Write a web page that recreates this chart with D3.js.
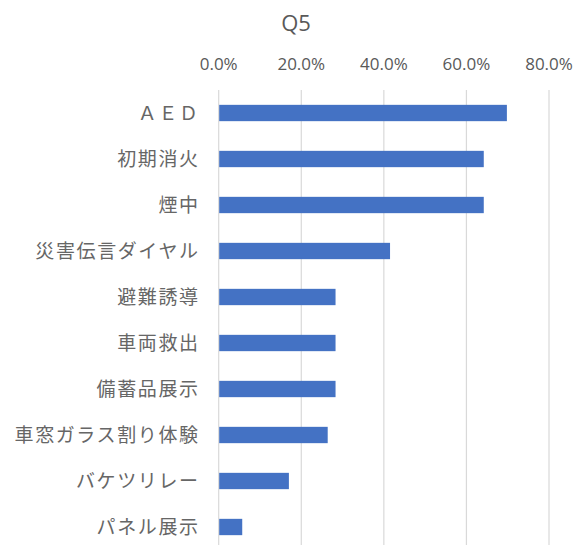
<!DOCTYPE html>
<html>
<head>
<meta charset="utf-8">
<script src="https://cdn.jsdelivr.net/npm/d3@7"></script>
<style>
  html, body { margin: 0; padding: 0; background: #fff; }
  svg { display: block; }
  .cat { font-family: "Noto Sans CJK JP", sans-serif; font-size: 19px; fill: #666; letter-spacing: 1.6px; }
  .tick-lbl { font-family: "Open Sans", "Noto Sans", sans-serif; font-size: 17px; fill: #595959; }
  .title { font-family: "Open Sans", "Noto Sans", sans-serif; font-size: 22px; fill: #595959; }
</style>
</head>
<body>
<div id="chart"></div>
<script>
const categories = ["ＡＥＤ", "初期消火", "煙中", "災害伝言ダイヤル", "避難誘導", "車両救出", "備蓄品展示", "車窓ガラス割り体験", "バケツリレー", "パネル展示"];
const values = [0.698, 0.642, 0.642, 0.415, 0.283, 0.283, 0.283, 0.264, 0.170, 0.057];
const tickValues = [0, 0.2, 0.4, 0.6, 0.8];
const chartTitle = "Q5";

const W = 577, H = 545;
const M = { top: 90, right: 28, bottom: -5, left: 218.7 };

const svg = d3.select("#chart").append("svg").attr("width", W).attr("height", H);

const x = d3.scaleLinear().domain([0, 0.8]).range([M.left, W - M.right]);
const y = d3.scaleBand().domain(categories).range([M.top, H - M.bottom]).paddingInner(0.645).paddingOuter(0.3225);

// gridlines
svg.append("g").selectAll("line").data(tickValues).join("line")
  .attr("x1", (d) => x(d)).attr("x2", (d) => x(d))
  .attr("y1", M.top).attr("y2", H - M.bottom)
  .attr("stroke", "#d9d9d9").attr("stroke-width", 1.2);

// tick labels (top axis)
svg.append("g").selectAll("text").data(tickValues).join("text")
  .attr("class", "tick-lbl")
  .attr("x", (d) => x(d)).attr("y", 70)
  .attr("text-anchor", "middle")
  .text((d) => d3.format(".1%")(d));

// bars
svg.append("g").selectAll("rect").data(values).join("rect")
  .attr("x", x(0) + 0.5)
  .attr("y", (d, i) => y(categories[i]))
  .attr("width", (d) => x(d) - x(0) - 0.5)
  .attr("height", y.bandwidth())
  .attr("fill", "#4472c4");

// category labels
svg.append("g").selectAll("text").data(categories).join("text")
  .attr("class", "cat")
  .attr("x", 198 + 1.6).attr("y", (d) => y(d) + y.bandwidth() / 2)
  .attr("dy", "0.36em")
  .attr("text-anchor", "end")
  .text((d) => d);

svg.append("text").attr("class", "title")
  .attr("x", 296).attr("y", 31)
  .attr("text-anchor", "middle")
  .text(chartTitle);
</script>
</body>
</html>
